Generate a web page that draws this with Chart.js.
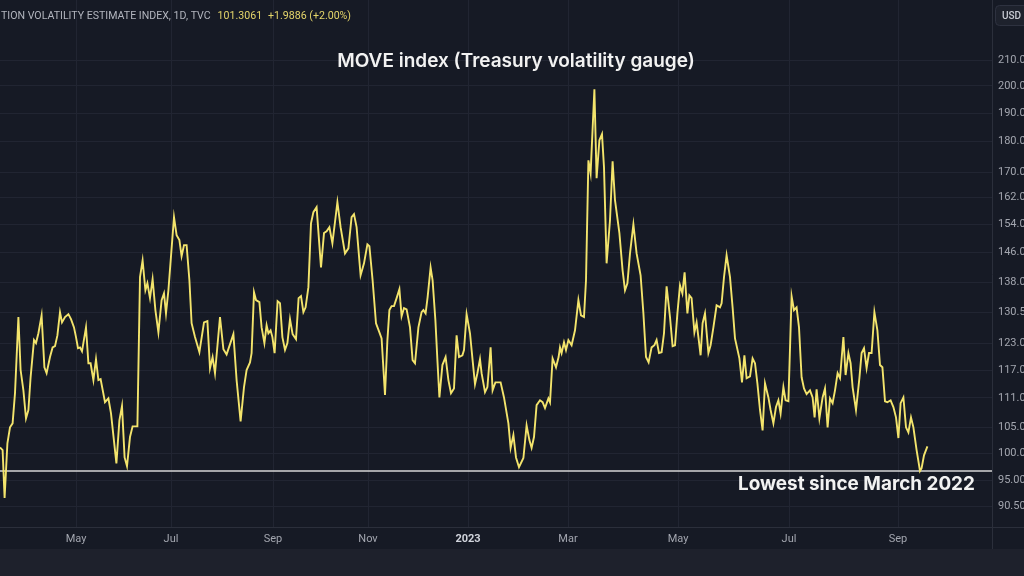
<!DOCTYPE html>
<html lang="en">
<head>
<meta charset="UTF-8">
<title>MOVE index (Treasury volatility gauge)</title>
<script src="https://cdn.jsdelivr.net/npm/chart.js@4"></script>
<style>
  html, body { margin: 0; padding: 0; background: #161a25; overflow: hidden; }
  #wrap { width: 1024px; height: 576px; }
</style>
</head>
<body>
<div id="wrap"><canvas id="moveChart" width="1024" height="576"></canvas></div>
<script>
// Chart day index (x position along the TradingView time axis)
const days = [
  0, 1.3, 2.3, 3.7, 5, 6.3, 7.5, 9.2, 10.3, 11.7, 13, 14.2, 15.3, 17, 18, 19.2, 20.8, 22.2, 23.3, 25,
  26.3, 27.5, 28.7, 30, 31, 32.5, 34.2, 35.5, 37, 38, 39, 40, 41, 43, 44.2, 45.3, 46.7, 48, 49.2, 50.3,
  52.5, 54.2, 55.5, 58.2, 59.7, 61, 62.3, 63.5, 65, 66.3, 68.7, 70, 71.3, 72.7, 73.7, 75, 76.3, 77.7, 79.2, 80.8,
  82, 83, 84.2, 87, 88.3, 89.7, 90.8, 92, 93.3, 94.7, 95.8, 97.5, 99.7, 102, 103.7, 105, 106.3, 107.5, 110, 111.7,
  113.3, 116.7, 118.3, 120.3, 122, 123.3, 125,
  125.8, 127, 128, 129.7, 130.8, 132.2, 133.3, 134.2, 135.3, 136.2, 137.3, 138.8, 140, 141.2, 142.5, 143.7, 145, 146.3, 148, 149.3,
  150.5, 151.7, 152.8, 154.2, 155.5, 156.7, 158.3, 160.5, 162, 163.3, 164.7, 166.2, 168.7, 170.3, 172.5, 174.2, 175.8, 177, 178.3, 180.3,
  182, 183.7, 184.7, 186.3, 188, 189.7, 190.8, 192.5, 193.7, 194.7, 195.8, 197, 198.3, 199.7, 200.8, 202, 203.3, 205, 206.3, 207.5,
  209.2, 210.8, 211.7, 212.8, 213.8, 215.3, 216.3, 217.7, 218.7, 219.7, 221.2, 222.8, 224.2, 225.5, 227, 228.3, 229.5, 231.2, 232, 233.3,
  235, 236.3, 237.5, 238.7, 240, 240.8, 242.5, 243.7, 245.3, 246.3, 247.7,
  250.3, 252, 254.2, 255.3, 256.7, 258, 259.5, 261.7, 263.3, 264.7, 265.8, 267, 268.3, 270, 271.3, 272.5, 274.2, 275, 276.3, 278,
  279.3, 280, 280.8, 282, 283, 284.2, 285.8, 287.5, 289.2, 290.5, 292, 293, 294.2, 295.3, 297.2, 298.3, 299.7, 301, 302, 303.3,
  305, 306.3, 307.5, 309.7, 311.3, 312.5, 313.7, 315, 316.7, 318.3, 320.3, 321.7, 323, 324.3, 325.8, 327.2, 328.3, 329.5, 330.8, 332,
  333.3, 335, 336.3, 337.5, 338.7, 340, 341.2, 342.3, 343.7, 344.7, 345.8, 347.2, 348.3, 349.2, 350.3, 351.3, 352.5, 354.2, 355.3, 356.7,
  358.3, 360, 360.8, 362, 363.3, 365,
  366.3, 367.5, 369.7, 371, 372.2, 373.3, 375, 376.3, 377.5, 378.7, 380, 381.3, 382.5, 384.2, 385.3, 386.7, 388, 389.2, 390.3, 391.7,
  392.8, 394.2, 395.8, 397, 398.3, 399.5, 400.8, 402, 403.3, 405, 406.3, 407.3, 408.3, 409.7, 411.3, 412.5, 413.8, 415, 416.3, 417.5,
  418.8, 420, 421.7, 422.8, 424.2, 425.3, 426.3, 428, 429.7, 430.8, 432, 433.3, 434.5, 435.8, 437.2, 438.7, 440, 441.2, 442.5, 443.7,
  445.3, 446.7, 448, 449.2, 450.3, 451.7, 453, 454.2, 455.5, 456.7, 458.3, 460, 460.8, 462, 463.7
];

// MOVE index level at each of those points
const move = [
  101.1, 100.6, 91.9, 101.9, 105.0, 105.8, 112.0, 129.3, 117.0, 112.6, 106.8, 108.5, 115.4, 123.8, 123.1, 125.4, 129.7, 117.6, 116.3, 119.9,
  122.1, 122.4, 124.9, 130.5, 128.0, 129.3, 130.0, 128.8, 126.8, 124.5, 121.9, 122.1, 121.2, 126.8, 118.5, 118.5, 114.8, 119.4, 114.8, 115.0,
  110.1, 110.9, 107.8, 98.1, 106.4, 109.3, 99.2, 97.6, 103.1, 105.2, 105.2, 139.4, 143.9, 136.0, 137.8, 134.0, 138.9, 131.0, 125.6, 133.5,
  135.2, 130.2, 136.0, 156.1, 150.9, 149.5, 145.0, 148.1, 148.1, 138.6, 127.8, 124.5, 121.0, 128.0, 128.3, 117.4, 119.9, 116.3, 129.3, 121.7,
  120.5, 125.2, 114.8, 106.2, 113.3, 117.0, 118.7,
  120.8, 135.5, 133.5, 133.0, 126.8, 123.1, 127.3, 125.4, 126.1, 124.5, 120.8, 133.2, 132.7, 124.5, 121.5, 123.1, 128.8, 125.2, 124.0, 134.0,
  134.5, 130.5, 131.7, 136.8, 154.3, 157.6, 159.1, 142.0, 151.5, 152.0, 153.2, 148.6, 160.6, 153.2, 145.8, 147.2, 156.1, 157.0, 153.2, 139.9,
  143.1, 148.3, 147.8, 138.6, 127.8, 125.6, 124.2, 111.6, 123.8, 131.0, 132.0, 132.0, 134.0, 136.3, 129.5, 131.5, 131.2, 126.8, 119.2, 118.5,
  126.8, 130.5, 131.0, 130.2, 134.2, 142.0, 138.6, 128.5, 119.2, 111.1, 118.1, 119.9, 114.8, 112.0, 113.0, 124.9, 119.9, 120.3, 121.5, 130.0,
  125.4, 119.2, 113.9, 116.3, 119.4, 116.3, 112.2, 113.3, 122.1, 112.6, 114.3,
  114.3, 111.1, 105.8, 101.0, 103.5, 99.2, 97.4, 99.1, 105.4, 102.5, 101.0, 103.1, 109.5, 110.5, 110.1, 108.9, 110.9, 110.1, 119.6, 117.6,
  119.9, 122.1, 120.8, 123.3, 121.5, 123.8, 122.6, 126.1, 133.5, 129.7, 129.3, 138.6, 173.8, 169.6, 198.7, 168.0, 180.5, 182.6, 171.5, 143.1,
  155.2, 173.5, 161.2, 151.5, 141.2, 136.0, 137.8, 145.8, 154.0, 145.8, 139.9, 130.2, 119.9, 118.7, 122.1, 122.6, 123.8, 120.8, 121.0, 125.4,
  137.0, 129.3, 122.4, 122.6, 130.2, 137.3, 135.2, 140.7, 130.2, 134.7, 134.0, 125.6, 128.0, 124.5, 120.3, 127.8, 130.2, 120.8, 122.6, 126.8,
  132.2, 131.7, 132.7, 139.4, 145.3, 139.4,
  131.7, 124.2, 119.6, 114.3, 120.3, 115.2, 115.6, 119.6, 118.5, 114.1, 108.5, 104.4, 114.1, 111.1, 108.5, 105.8, 109.1, 110.5, 107.8, 113.3,
  110.5, 110.3, 134.5, 131.0, 131.7, 126.8, 115.4, 113.0, 111.8, 112.6, 111.1, 107.0, 112.8, 106.8, 111.1, 113.0, 105.0, 110.9, 109.9, 112.6,
  116.3, 115.2, 124.5, 115.9, 120.8, 118.5, 113.3, 108.5, 115.2, 120.8, 121.9, 117.4, 120.8, 120.8, 130.5, 126.1, 118.1, 117.6, 110.3, 110.1,
  110.5, 109.1, 107.0, 102.9, 109.9, 111.1, 105.0, 104.0, 107.0, 105.0, 100.6, 96.7, 97.2, 99.6, 101.3
];

// Time axis: month starts on the same day index
const monthTickDays = [38, 85.5, 136.5, 184, 234, 284, 339, 394.5, 449];
const monthTickLabels = ['May', 'Jul', 'Sep', 'Nov', '2023', 'Mar', 'May', 'Jul', 'Sep'];

// Price axis (log scale) ticks as TradingView prints them
const priceTicks = [210, 200, 190, 180, 170, 162, 154, 146, 138, 130.5, 123, 117, 111, 105, 100, 95, 90.5];
const priceTickLabels = ['210.0', '200.0', '190.0', '180.0', '170.0', '162.0', '154.0', '146.0', '138.0',
  '130.5', '123.0', '117.0', '111.0', '105.0', '100.0', '95.00', '90.50'];

const dayRange = [0, 496];
const priceRange = [87.0, 235.2];
const lowestLevel = 96.7;

const headerName = 'TION VOLATILITY ESTIMATE INDEX, 1D, TVC';
const headerLast = '101.3061';
const headerChange = '+1.9886 (+2.00%)';
const chartTitle = 'MOVE index (Treasury volatility gauge)';
const lowestNote = 'Lowest since March 2022';

const BG = '#161a25';
const GRID = '#212532';
const BORDER = '#2b2f3b';
const AXIS_TEXT = '#a3a6af';
const YELLOW = '#f3e46c';

const backdrop = {
  id: 'backdrop',
  beforeDraw(chart) {
    const c = chart.ctx;
    c.save();
    c.fillStyle = BG;
    c.fillRect(0, 0, chart.width, chart.height);
    c.fillStyle = '#1e212c';
    c.fillRect(0, 549, chart.width, chart.height - 549);
    c.restore();
  }
};

const overlay = {
  id: 'overlay',
  afterDraw(chart) {
    const c = chart.ctx;
    const area = chart.chartArea;
    const y = chart.scales.y;
    c.save();

    // frame lines of the price and time axes
    c.strokeStyle = BORDER;
    c.lineWidth = 1;
    c.beginPath();
    c.moveTo(0, area.bottom + 0.5);
    c.lineTo(chart.width, area.bottom + 0.5);
    c.moveTo(area.right + 0.5, 0);
    c.lineTo(area.right + 0.5, 549);
    c.stroke();

    // header line
    c.textBaseline = 'middle';
    c.font = '10.6px Roboto, sans-serif';
    c.fillStyle = '#b2b5be';
    c.fillText(headerName, 1, 16);
    let x = 1 + c.measureText(headerName).width + 7;
    c.fillStyle = '#e4d56a';
    c.fillText(headerLast, x, 16);
    x += c.measureText(headerLast).width + 6;
    c.fillText(headerChange, x, 16);

    // currency box
    c.fillStyle = '#1e222d';
    c.strokeStyle = '#2e3240';
    c.beginPath();
    c.roundRect(995.5, 5.5, 40, 20, 4);
    c.fill();
    c.stroke();
    c.fillStyle = '#c8cbd3';
    c.font = '500 10px Roboto, sans-serif';
    c.fillText('USD', 1002, 16);

    // title
    c.fillStyle = '#f2f2f2';
    c.font = '600 19px Inter, sans-serif';
    c.textAlign = 'center';
    c.textBaseline = 'alphabetic';
    c.fillText(chartTitle, 516, 67);

    // note under the low line
    c.textAlign = 'left';
    c.font = 'bold 18.9px Inter, sans-serif';
    c.fillText(lowestNote, 738, y.getPixelForValue(lowestLevel) + 19);
    c.restore();
  }
};

const points = days.map((d, i) => ({ x: d, y: move[i] }));

new Chart(document.getElementById('moveChart'), {
  type: 'line',
  data: {
    datasets: [
      {
        label: 'MOVE',
        data: points,
        borderColor: YELLOW,
        borderWidth: 1.9,
        pointRadius: 0,
        tension: 0
      },
      {
        label: 'Lowest',
        data: [{ x: dayRange[0], y: lowestLevel }, { x: dayRange[1], y: lowestLevel }],
        borderColor: '#d6d6d6',
        borderWidth: 1.6,
        pointRadius: 0
      }
    ]
  },
  options: {
    responsive: false,
    animation: false,
    layout: { padding: 0 },
    plugins: {
      legend: { display: false },
      tooltip: { enabled: false }
    },
    scales: {
      x: {
        type: 'linear',
        min: dayRange[0],
        max: dayRange[1],
        bounds: 'data',
        offset: false,
        grid: { color: GRID, drawTicks: false },
        border: { display: false },
        ticks: {
          autoSkip: false,
          maxRotation: 0,
          padding: 6,
          color: ctx => /^\d{4}$/.test(monthTickLabels[ctx.index]) ? '#d1d4dc' : AXIS_TEXT,
          font: ctx => ({
            family: 'Roboto, sans-serif',
            size: 11,
            weight: /^\d{4}$/.test(monthTickLabels[ctx.index]) ? 'bold' : 'normal'
          }),
          callback: (v, i) => monthTickLabels[i]
        },
        afterBuildTicks: s => { s.ticks = monthTickDays.map(v => ({ value: v })); },
        afterFit: s => { s.height = 49; s.paddingLeft = 0; s.paddingRight = 0; }
      },
      y: {
        type: 'logarithmic',
        position: 'right',
        min: priceRange[0],
        max: priceRange[1],
        bounds: 'data',
        grid: { color: GRID, drawTicks: false },
        border: { display: false },
        ticks: {
          padding: 6,
          color: AXIS_TEXT,
          font: { family: 'Roboto, sans-serif', size: 11 },
          callback: (v, i) => priceTickLabels[i]
        },
        afterBuildTicks: s => { s.ticks = priceTicks.map(v => ({ value: v })); },
        afterFit: s => { s.width = 32; s.paddingTop = 0; s.paddingBottom = 0; }
      }
    }
  },
  plugins: [backdrop, overlay]
});
</script>
</body>
</html>
